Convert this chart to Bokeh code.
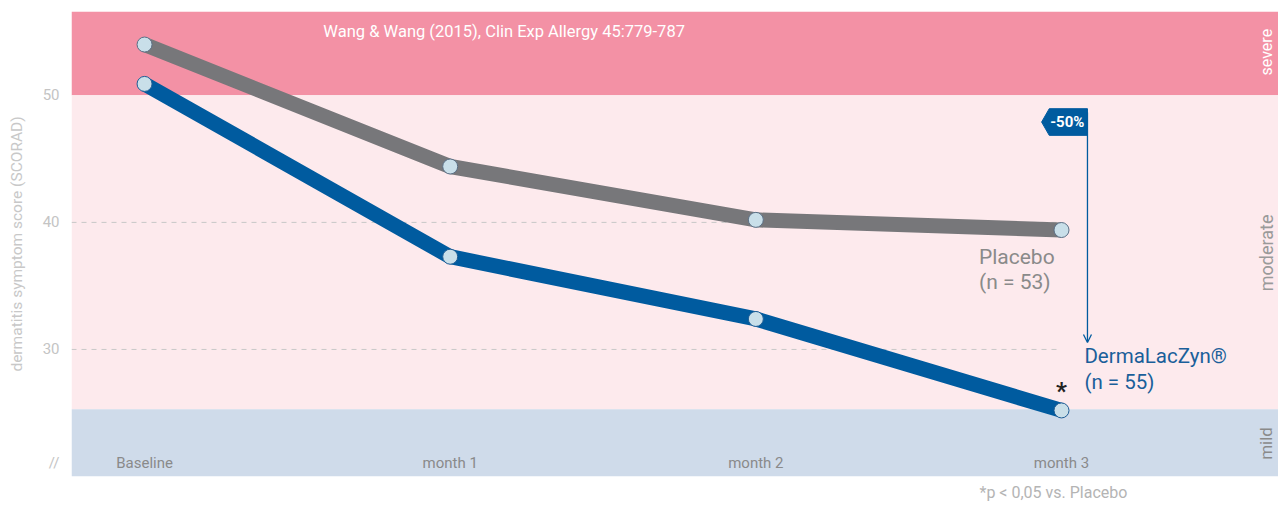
import math
from bokeh.plotting import figure
from bokeh.models import Range1d, BoxAnnotation, FixedTicker, ColumnDataSource, Arrow, OpenHead, Title
from bokeh.core.properties import value
from bokeh.embed import file_html
from bokeh.resources import INLINE

# ---- data ----
categories = ["Baseline", "month 1", "month 2", "month 3"]
x_pos = [0, 1, 2, 3]
placebo = [54.0, 44.4, 40.2, 39.4]
dermalaczyn = [50.9, 37.3, 32.4, 25.2]
y_ticks = [30, 40, 50]
axis_break_at = 21.1
severe_from = 50
mild_to = 25.3
reduction_label = "-50%"

FONT = "Roboto"
GRAY_LINE = "#77777a"
BLUE = "#005b9f"

p = figure(width=1278, height=509, output_backend="svg", toolbar_location=None,
           x_range=Range1d(-0.239, 3.71), y_range=Range1d(20, 56.6),
           min_border_left=71, min_border_top=11, min_border_right=0, min_border_bottom=33)
p.outline_line_color = None
p.xaxis.visible = False
p.xgrid.visible = False
p.ygrid.visible = False
p.background_fill_color = "white"

yax = p.yaxis[0]
yax.ticker = FixedTicker(ticks=[axis_break_at] + y_ticks)
yax.major_label_overrides = {axis_break_at: "//"}
yax.axis_line_color = None
yax.major_tick_line_color = None
yax.minor_tick_line_color = None
yax.major_tick_out = 0
yax.major_tick_in = 0
yax.minor_tick_out = 0
yax.major_label_text_color = "#c4c4c4"
yax.major_label_text_font = FONT
yax.major_label_text_font_size = "15px"
yax.major_label_standoff = 12
yax.axis_label = "dermatitis symptom score (SCORAD)"
yax.axis_label_text_font = FONT
yax.axis_label_text_font_style = "normal"
yax.axis_label_text_font_size = "15.5px"
yax.axis_label_text_color = "#c8c8c8"
yax.axis_label_standoff = 14

# bands
p.add_layout(BoxAnnotation(bottom=severe_from, fill_color="#f391a5", fill_alpha=1, line_alpha=0, level="underlay"))
p.add_layout(BoxAnnotation(bottom=mild_to, top=severe_from, fill_color="#fdeaed", fill_alpha=1, line_alpha=0, level="underlay"))
p.add_layout(BoxAnnotation(top=mild_to, fill_color="#cfdbea", fill_alpha=1, line_alpha=0, level="underlay"))

# dashed reference lines
for yv in [t for t in y_ticks if t < severe_from]:
    p.segment(x0=-0.239, y0=yv, x1=x_pos[-1], y1=yv, line_color="#c8c8c8", line_width=1, line_dash="5 5")

# series
p.line(x_pos, placebo, line_color=GRAY_LINE, line_width=15, line_join="round")
p.line(x_pos, dermalaczyn, line_color=BLUE, line_width=15, line_join="round")
p.scatter(x_pos, placebo, size=15, fill_color="#c9dfe9", line_color="#5a6f85", line_width=1)
p.scatter(x_pos, dermalaczyn, size=15, fill_color="#c9dfe9", line_color="#1d5c94", line_width=1)

# category labels inside the mild band
src = ColumnDataSource(dict(x=x_pos, y=[axis_break_at] * 4, t=categories))
p.text(x="x", y="y", text="t", source=src, text_align="center", text_baseline="middle",
       text_font=value(FONT), text_font_size="15px", text_color="#8a8a8a")

# reduction arrow and tag
ax = x_pos[-1] + 0.085
p.add_layout(Arrow(end=OpenHead(size=8, line_color=BLUE, line_width=1.3), x_start=ax, y_start=48.66,
                   x_end=ax, y_end=30.55, line_color=BLUE, line_width=1.3))
tag_x = [ax, ax, ax - 0.125, ax - 0.15, ax - 0.125]
tag_y = [48.95, 46.85, 46.85, 47.9, 48.95]
p.patch(tag_x, tag_y, fill_color=BLUE, line_color=BLUE)
p.text(x=[ax - 0.066], y=[47.9], text=[reduction_label], text_align="center", text_baseline="middle",
       text_font=value(FONT), text_font_style="bold", text_font_size="15px", text_color="white")

# series labels
p.text(x=[x_pos[-1] - 0.27], y=[placebo[-1] - 2.1], text=["Placebo"], text_baseline="middle",
       text_font=value(FONT), text_font_size="21px", text_color="#8a8a8a")
p.text(x=[x_pos[-1] - 0.27], y=[placebo[-1] - 4.1], text=["(n = 53)"], text_baseline="middle",
       text_font=value(FONT), text_font_size="21px", text_color="#8a8a8a")
p.text(x=[x_pos[-1] + 0.075], y=[dermalaczyn[-1] + 4.3], text=["DermaLacZyn®"], text_baseline="middle",
       text_font=value(FONT), text_font_size="20.5px", text_color="#1a5f9a")
p.text(x=[x_pos[-1] + 0.075], y=[dermalaczyn[-1] + 2.25], text=["(n = 55)"], text_baseline="middle",
       text_font=value(FONT), text_font_size="20.5px", text_color="#1a5f9a")
p.text(x=[x_pos[-1]], y=[dermalaczyn[-1] + 1.5], text=["*"], text_align="center", text_baseline="middle",
       text_font=value(FONT), text_font_size="24px", text_font_style="bold", text_color="#222222")

# source note
p.text(x=[0.585], y=[55.0], text=["Wang & Wang (2015), Clin Exp Allergy 45:779-787"], text_baseline="middle",
       text_font=value(FONT), text_font_size="16.5px", text_color="white")

# band names on the right
for txt, yc, col, fs in [("severe", 53.4, "white", "16px"), ("moderate", 37.6, "#9a9a9a", "18px"),
                         ("mild", 22.6, "#8a8a8a", "17px")]:
    p.text(x=[3.67], y=[yc], text=[txt], angle=math.pi / 2, text_align="center", text_baseline="middle",
           text_font=value(FONT), text_font_size=fs, text_color=col)

# footnote below the plot
p.add_layout(Title(text="*p < 0,05 vs. Placebo", align="left", offset=908, text_font=FONT,
                   text_font_size="16px", text_font_style="normal", text_color="#b4b4b4",
                   standoff=8, vertical_align="bottom"), "below")

open("out.html", "w").write(file_html(p, INLINE))
